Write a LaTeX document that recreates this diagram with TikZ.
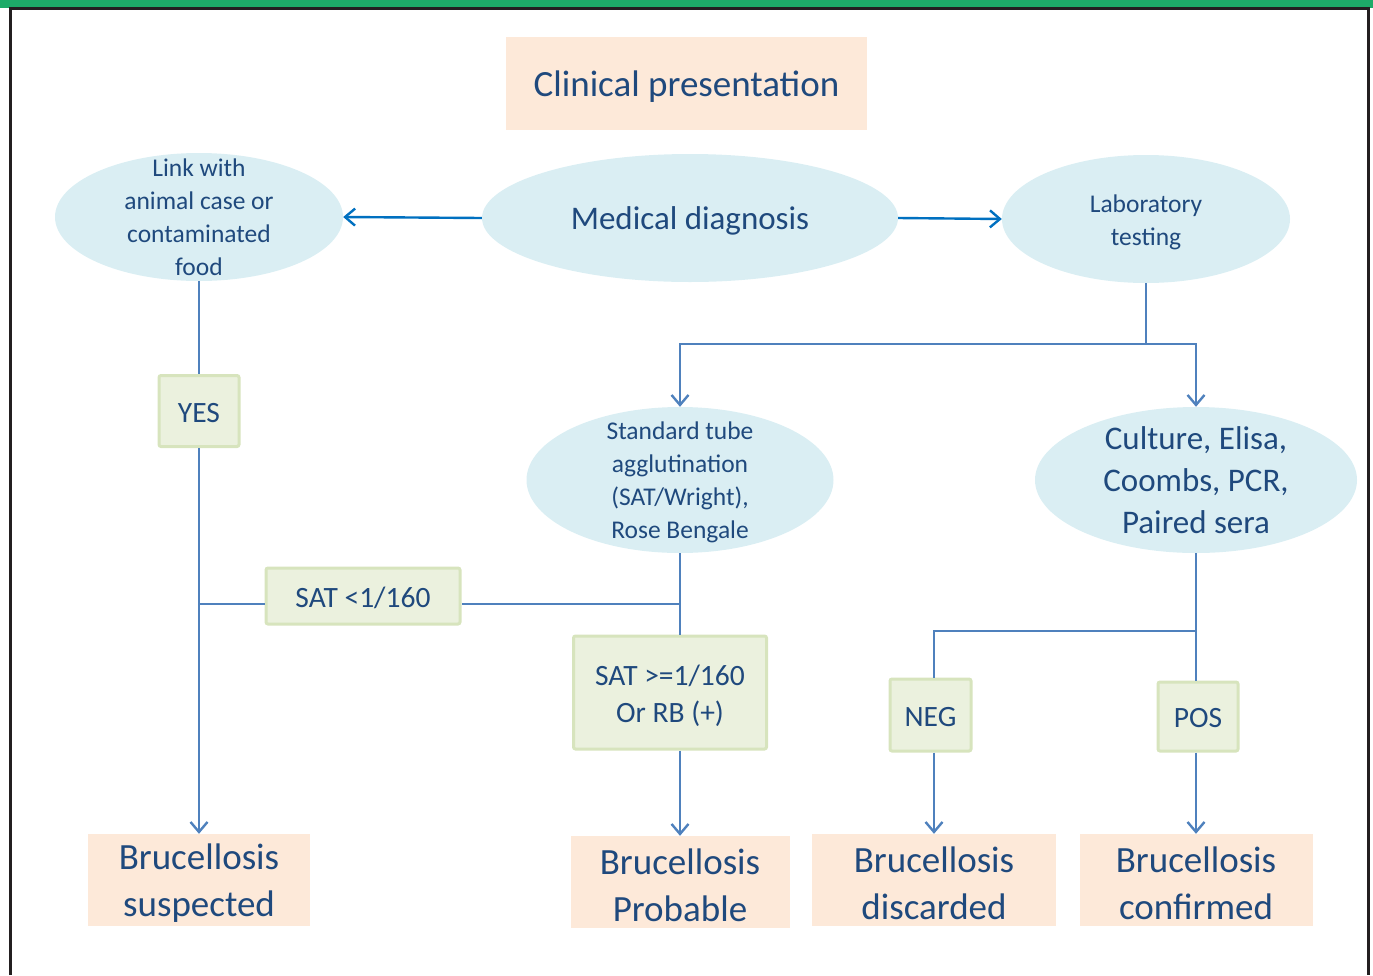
\documentclass[tikz,border=0pt]{standalone}
\usepackage{fontspec}
\setmainfont{Carlito}
\usetikzlibrary{shapes.geometric,arrows.meta}
\definecolor{txt}{HTML}{1F497D}
\definecolor{ell}{HTML}{DAEEF3}
\definecolor{peach}{HTML}{FDE9D9}
\definecolor{gfill}{HTML}{EBF1DE}
\definecolor{gedge}{HTML}{D7E4BD}
\definecolor{wire}{HTML}{4F81BD}
\definecolor{wiretop}{HTML}{0070C0}
\definecolor{band}{HTML}{1DAB68}
\definecolor{frame}{HTML}{231F20}

\tikzset{
  oval/.style={ellipse, fill=ell, draw=none, inner sep=0pt},
  result/.style={rectangle, fill=peach, inner sep=0pt},
  tag/.style={rectangle, rounded corners=2pt, fill=gfill, draw=gedge, line width=3pt,
              inner sep=0pt},
  lbl/.style={inner sep=0pt, text=txt, align=center},
  big/.style={font=\fontsize{37}{47}\selectfont},
  mid/.style={font=\fontsize{33}{42}\selectfont},
  tagfont/.style={font=\fontsize{29.5}{37}\selectfont},
  small/.style={font=\fontsize{25.5}{33}\selectfont},
  wireline/.style={draw=wire, line width=2.4pt},
  wiretopline/.style={draw=wiretop, line width=2.4pt},
  tip/.style={-{Straight Barb[length=10pt,width=17pt]}},
}

\begin{document}
\begin{tikzpicture}[x=1pt,y=-1pt]
\useasboundingbox (0,0) rectangle (1373,975);

% page frame
\fill[band] (0,0) rectangle (1373,7.5);
\draw[frame, line width=2.5pt] (10.5,975) -- (10.5,8.5) -- (1368.5,8.5) -- (1368.5,975);

% title box
\node[result, minimum width=361pt, minimum height=93pt] (clin) at (686.5,83.5) {};
\node[lbl, big] (clintxt) at ([yshift=-3pt]clin.center) {Clinical presentation};

% upper row of ovals
\node[oval, minimum width=416pt, minimum height=128pt] (med) at (690,218) {};
\node[lbl, mid] (medtxt) at ([yshift=-3pt]med.center) {Medical diagnosis};
\node[oval, minimum width=288pt, minimum height=128pt] (link) at (199,217) {};
\node[lbl, small] (linktxt) at (link.center)
  {Link with\\animal case or\\contaminated\\food};
\node[oval, minimum width=288pt, minimum height=128pt] (lab) at (1146,219) {};
\node[lbl, small] (labtxt) at ([yshift=-3pt]lab.center) {Laboratory\\testing};

% middle row of ovals
\node[oval, minimum width=307pt, minimum height=146pt] (std) at (680,480) {};
\node[lbl, small] (stdtxt) at ([yshift=-2.5pt]std.center)
  {Standard tube\\agglutination\\(SAT/Wright),\\Rose Bengale};
\node[oval, minimum width=322pt, minimum height=146pt] (cult) at (1196,480) {};
\node[lbl, mid] (culttxt) at (cult.center) {Culture, Elisa,\\Coombs, PCR,\\Paired sera};

% decision tags
\node[tag, minimum width=80pt, minimum height=71pt] (yes) at (199,411) {};
\node[lbl, tagfont] (yestxt) at ([yshift=-2pt]yes.center) {YES};
\node[tag, minimum width=194pt, minimum height=56pt] (satlow) at (363,596) {};
\node[lbl, tagfont] (satlowtxt) at ([yshift=-2pt]satlow.center) {SAT <1/160};
\node[tag, minimum width=193pt, minimum height=113pt] (sathigh) at (670,692.5) {};
\node[lbl, tagfont] (sathightxt) at ([yshift=-3.5pt]sathigh.center) {SAT >=1/160\\Or RB (+)};
\node[tag, minimum width=81pt, minimum height=72pt] (neg) at (930.5,715) {};
\node[lbl, tagfont] (negtxt) at ([yshift=-2pt]neg.center) {NEG};
\node[tag, minimum width=80pt, minimum height=69pt] (pos) at (1198,716.5) {};
\node[lbl, tagfont] (postxt) at ([yshift=-2pt]pos.center) {POS};

% outcomes
\node[result, minimum width=222pt, minimum height=92pt] (susp) at (199,880) {};
\node[lbl, big] (susptxt) at ([yshift=-3.5pt]susp.center) {Brucellosis\\suspected};
\node[result, minimum width=219pt, minimum height=92pt] (prob) at (680,882) {};
\node[lbl, big] (probtxt) at ([yshift=-3.5pt]prob.center) {Brucellosis\\Probable};
\node[result, minimum width=244pt, minimum height=92pt] (disc) at (934,880) {};
\node[lbl, big] (disctxt) at ([yshift=-3.5pt]disc.center) {Brucellosis\\discarded};
\node[result, minimum width=233pt, minimum height=92pt] (conf) at (1196,880) {};
\node[lbl, big] (conftxt) at ([yshift=-3.5pt]conf.center) {Brucellosis\\confirmed};

% junction points
\coordinate (labsplit) at (1146,344);
\coordinate (satjoin) at (680,604);
\coordinate (cultsplit) at (1196,631);

% links from the medical diagnosis
\draw[wiretopline, tip] (med.west) -- (link.east);
\draw[wiretopline, tip] (med.east) -- (lab.west);

% laboratory branch
\draw[wireline] (lab.south) -- (labsplit);
\draw[wireline, tip] (labsplit) -- (cult.north |- labsplit) -- (cult.north);
\draw[wireline, tip] (labsplit) -- (std.north |- labsplit) -- (std.north);

% epidemiological link branch
\draw[wireline] (link.south) -- (yes.north);
\draw[wireline, tip] (yes.south) -- (susp.north);

% serology branch
\draw[wireline] (std.south) -- (std.south |- sathigh.north);
\draw[wireline] (satjoin) -- (satlow.east |- satjoin);
\draw[wireline] (satlow.west |- satjoin) -- (yes.south |- satjoin);
\draw[wireline, tip] (prob.north |- sathigh.south) -- (prob.north);

% culture branch
\draw[wireline] (cult.south) -- (cultsplit);
\draw[wireline] (cultsplit) -- (disc.north |- cultsplit) -- (disc.north |- neg.north);
\draw[wireline] (cultsplit) -- (cult.south |- pos.north);
\draw[wireline, tip] (disc.north |- neg.south) -- (disc.north);
\draw[wireline, tip] (conf.north |- pos.south) -- (conf.north);
\end{tikzpicture}
\end{document}
